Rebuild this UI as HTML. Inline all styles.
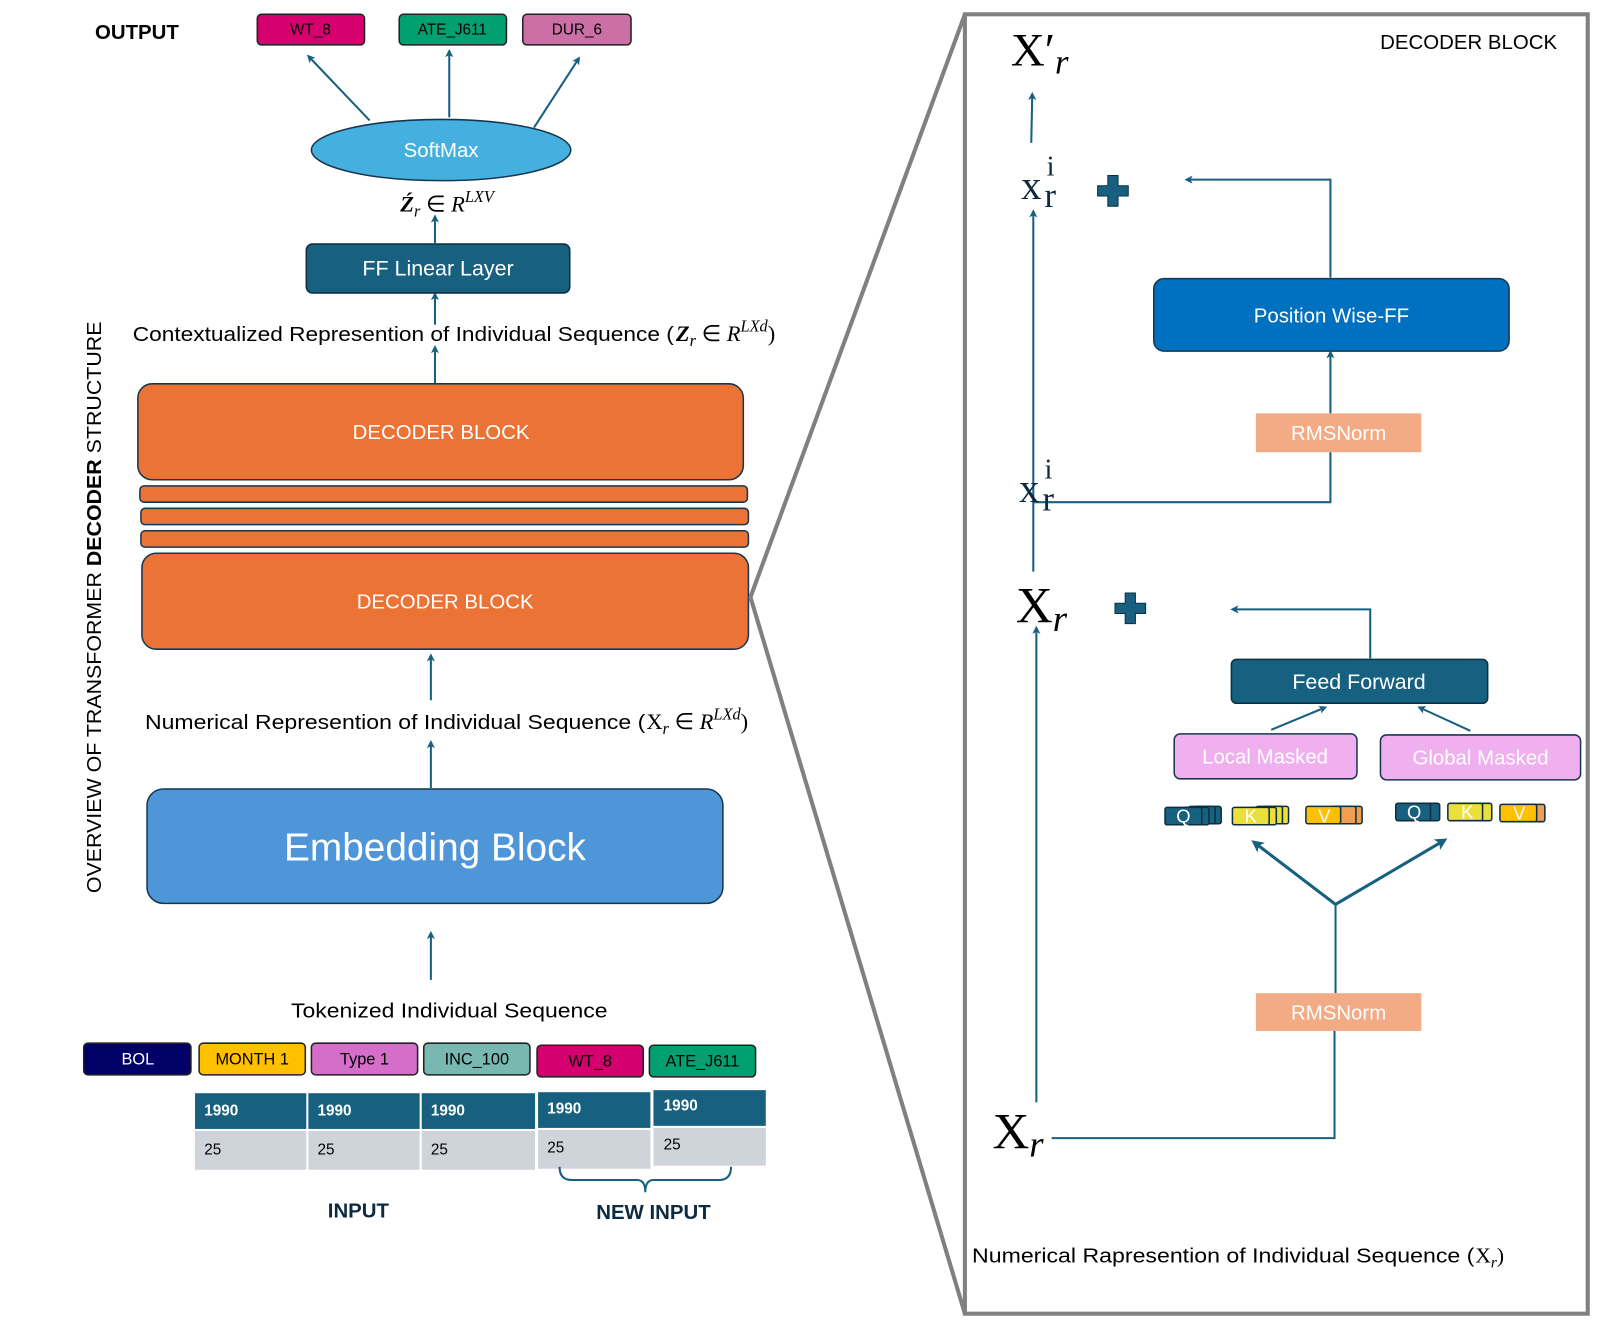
<!DOCTYPE html>
<html><head><meta charset="utf-8"><style>
html,body{margin:0;padding:0;background:#fff;}
svg{display:block;}
text{font-family:"Liberation Sans",sans-serif;}
.s{font-family:"Liberation Serif",serif;}
</style></head><body>
<svg width="1601" height="1329" viewBox="0 0 1568 1302" preserveAspectRatio="none" xmlns="http://www.w3.org/2000/svg">
<defs>
<marker id="a" markerWidth="8" markerHeight="8" refX="6" refY="4" orient="auto" markerUnits="userSpaceOnUse"><path d="M0,0 L8,4 L0,8 L2,4 z" fill="#17607f"/></marker>
<marker id="b" markerWidth="12" markerHeight="12" refX="9" refY="6" orient="auto" markerUnits="userSpaceOnUse"><path d="M0,0 L12,6 L0,12 L3,6 z" fill="#17607f"/></marker>
</defs>
<g stroke="#17607f" stroke-width="2" fill="none" marker-end="url(#a)">
<line x1="362" y1="118" x2="302" y2="55"/>
<line x1="440" y1="115" x2="440" y2="50"/>
<line x1="523" y1="125" x2="567" y2="57"/>
<line x1="426" y1="238" x2="426" y2="212"/>
<line x1="426" y1="318" x2="426" y2="288"/>
<line x1="426" y1="376" x2="426" y2="340"/>
<line x1="422" y1="686" x2="422" y2="642"/>
<line x1="422" y1="772" x2="422" y2="727"/>
<line x1="422" y1="960" x2="422" y2="914"/>
<line x1="1010" y1="140" x2="1011" y2="92"/>
<polyline points="1303,272 1303,176 1162,176"/>
<line x1="1303" y1="405" x2="1303" y2="345"/>
<line x1="1012" y1="560" x2="1012" y2="207"/>
<polyline points="1342,645 1342,597 1207,597"/>
<line x1="1245" y1="715" x2="1298" y2="693"/>
<line x1="1440" y1="716" x2="1390" y2="693"/>
<line x1="1015" y1="1080" x2="1015" y2="615"/>
</g>
<g stroke="#17607f" stroke-width="2" fill="none">
<polyline points="1303,443 1303,492 1012,492"/>
<polyline points="1307,1010 1307,1115 1030,1115"/>
<line x1="1308" y1="973" x2="1308" y2="886"/>
</g>
<g stroke="#17607f" stroke-width="3" fill="none" marker-end="url(#b)">
<line x1="1308" y1="886" x2="1228" y2="825"/>
<line x1="1308" y1="886" x2="1415" y2="823"/>
</g>
<!-- output -->
<text x="93" y="38" font-size="20" font-weight="bold" fill="#000">OUTPUT</text>
<g stroke="#222" stroke-width="1.5">
<rect x="252" y="14" width="105" height="30" rx="4" fill="#d6006f"/>
<rect x="391" y="14" width="105" height="30" rx="4" fill="#00a070"/>
<rect x="512" y="14" width="106" height="30" rx="4" fill="#cc6fa6"/>
</g>
<g font-size="15" text-anchor="middle" fill="#000">
<text x="304" y="34">WT_8</text><text x="443" y="34">ATE_J611</text><text x="565" y="34">DUR_6</text>
</g>
<ellipse cx="432" cy="147" rx="127" ry="30" fill="#45b0e0" stroke="#17374f" stroke-width="1.5"/>
<text x="432" y="154" font-size="20" fill="#fff" text-anchor="middle">SoftMax</text>
<text x="392" y="207" font-size="22" class="s"><tspan font-style="italic" font-weight="bold">Ź</tspan><tspan font-style="italic" font-size="16" dy="5">r</tspan><tspan dy="-5"> ∈ </tspan><tspan font-style="italic">R</tspan><tspan font-style="italic" font-size="16" dy="-9">LXV</tspan></text>
<rect x="300" y="239" width="258" height="48" rx="6" fill="#17607f" stroke="#0d2f40" stroke-width="1.5"/>
<text x="429" y="270" font-size="21" fill="#fff" text-anchor="middle">FF Linear Layer</text>
<text x="130" y="334" font-size="20" fill="#000" textLength="530" lengthAdjust="spacingAndGlyphs">Contextualized Represention of Individual Sequence (</text>
<text x="662" y="334" font-size="22" class="s"><tspan font-style="italic" font-weight="bold">Z</tspan><tspan font-style="italic" font-size="16" dy="5">r</tspan><tspan dy="-5"> ∈ </tspan><tspan font-style="italic">R</tspan><tspan font-style="italic" font-size="16" dy="-9">LXd</tspan><tspan dy="9">)</tspan></text>
<g fill="#eb7336" stroke="#17374f" stroke-width="1.5">
<rect x="135" y="376" width="593" height="94" rx="14"/>
<rect x="137" y="476" width="595" height="16" rx="4"/>
<rect x="138" y="498" width="595" height="16" rx="4"/>
<rect x="138" y="520" width="595" height="16" rx="4"/>
<rect x="139" y="542" width="594" height="94" rx="14"/>
</g>
<text x="432" y="430" font-size="20" fill="#fff" text-anchor="middle">DECODER BLOCK</text>
<text x="436" y="596" font-size="20" fill="#fff" text-anchor="middle">DECODER BLOCK</text>
<text x="142" y="714" font-size="20" fill="#000" textLength="490" lengthAdjust="spacingAndGlyphs">Numerical Represention of  Individual Sequence (</text>
<text x="633" y="714" font-size="22" class="s"><tspan>X</tspan><tspan font-style="italic" font-size="16" dy="5">r</tspan><tspan dy="-5"> ∈ </tspan><tspan font-style="italic">R</tspan><tspan font-style="italic" font-size="16" dy="-9">LXd</tspan><tspan dy="9">)</tspan></text>
<rect x="144" y="773" width="564" height="112" rx="16" fill="#4f96d9" stroke="#17374f" stroke-width="1.5"/>
<text x="426" y="843" font-size="38" fill="#fff" text-anchor="middle">Embedding Block</text>
<text transform="translate(99,875) rotate(-90)" font-size="20" fill="#000" textLength="560" lengthAdjust="spacingAndGlyphs">OVERVIEW OF TRANSFORMER  <tspan font-weight="bold">DECODER</tspan> STRUCTURE</text>
<text x="285" y="997" font-size="20" fill="#000" textLength="310" lengthAdjust="spacingAndGlyphs">Tokenized Individual Sequence</text>
<g stroke="#222" stroke-width="1.5">
<rect x="82" y="1022" width="105" height="31" rx="4" fill="#000066"/>
<rect x="195" y="1022" width="104" height="31" rx="4" fill="#ffc000"/>
<rect x="305" y="1022" width="104" height="31" rx="4" fill="#d46ec8"/>
<rect x="415" y="1022" width="104" height="31" rx="4" fill="#79b7b1"/>
<rect x="526" y="1024" width="104" height="31" rx="4" fill="#d4006f"/>
<rect x="636" y="1024" width="104" height="31" rx="4" fill="#00a070"/>
</g>
<g font-size="16" text-anchor="middle" fill="#000">
<text x="135" y="1043" fill="#fff">BOL</text><text x="247" y="1043">MONTH 1</text><text x="357" y="1043">Type 1</text><text x="467" y="1043">INC_100</text><text x="578" y="1045">WT_8</text><text x="688" y="1045">ATE_J611</text>
</g>
<g fill="#17607f">
<rect x="191" y="1071" width="109" height="35"/><rect x="302" y="1071" width="109" height="35"/><rect x="413" y="1071" width="111" height="35"/><rect x="527" y="1070" width="110" height="35"/><rect x="640" y="1068" width="110" height="35"/>
</g>
<g fill="#cfd3da">
<rect x="191" y="1108" width="109" height="38"/><rect x="302" y="1108" width="109" height="38"/><rect x="413" y="1108" width="111" height="38"/><rect x="527" y="1107" width="110" height="38"/><rect x="640" y="1105" width="110" height="37"/>
</g>
<g font-size="15" font-weight="bold" fill="#fff">
<text x="200" y="1093">1990</text><text x="311" y="1093">1990</text><text x="422" y="1093">1990</text><text x="536" y="1091">1990</text><text x="650" y="1088">1990</text>
</g>
<g font-size="15" fill="#000">
<text x="200" y="1131">25</text><text x="311" y="1131">25</text><text x="422" y="1131">25</text><text x="536" y="1129">25</text><text x="650" y="1126">25</text>
</g>
<path d="M548,1143 Q548,1156 560,1156 L624,1156 Q632,1156 632,1168 Q632,1156 640,1156 L704,1156 Q716,1156 716,1143" fill="none" stroke="#17607f" stroke-width="2"/>
<text x="351" y="1193" font-size="20" font-weight="bold" fill="#0d2a40" text-anchor="middle">INPUT</text>
<text x="640" y="1194" font-size="20" font-weight="bold" fill="#0d2a40" text-anchor="middle">NEW INPUT</text>
<!-- right panel -->
<rect x="945" y="14" width="610" height="1273" fill="none" stroke="#808080" stroke-width="4"/>
<line x1="735" y1="585" x2="945" y2="14" stroke="#808080" stroke-width="4"/>
<line x1="735" y1="585" x2="945" y2="1287" stroke="#808080" stroke-width="4"/>
<text x="1525" y="48" font-size="20" fill="#000" text-anchor="end">DECODER BLOCK</text>
<text x="990" y="64" font-size="46" class="s" fill="#000">X′<tspan font-style="italic" font-size="34" dy="8">r</tspan></text>
<g class="s" fill="#0d2a40">
<text x="1000" y="195" font-size="40" class="s">x</text>
<text x="1025" y="172" font-size="28" class="s">i</text>
<text x="1023" y="203" font-size="34" class="s">r</text>
<text x="998" y="492" font-size="40" class="s">x</text>
<text x="1023" y="469" font-size="28" class="s">i</text>
<text x="1021" y="500" font-size="34" class="s">r</text>
</g>
<text x="995" y="610" font-size="50" class="s" fill="#000">X<tspan font-style="italic" font-size="36" dy="8">r</tspan></text>
<text x="972" y="1125" font-size="50" class="s" fill="#000">X<tspan font-style="italic" font-size="36" dy="8">r</tspan></text>
<path d="M1075,182 h10 v-10 h10 v10 h10 v10 h-10 v10 h-10 v-10 h-10 z" fill="#17607f" stroke="#0d2f40" stroke-width="1"/>
<path d="M1092,591 h10 v-10 h10 v10 h10 v10 h-10 v10 h-10 v-10 h-10 z" fill="#17607f" stroke="#0d2f40" stroke-width="1"/>
<rect x="1130" y="273" width="348" height="71" rx="10" fill="#0070c0" stroke="#17374f" stroke-width="1.5"/>
<text x="1304" y="316" font-size="20" fill="#fff" text-anchor="middle">Position Wise-FF</text>
<rect x="1230" y="405" width="162" height="38" fill="#f2ab84"/>
<text x="1311" y="431" font-size="20" fill="#fff" text-anchor="middle">RMSNorm</text>
<rect x="1206" y="646" width="251" height="43" rx="5" fill="#17607f" stroke="#0d2f40" stroke-width="1.5"/>
<text x="1331" y="675" font-size="21" fill="#fff" text-anchor="middle">Feed Forward</text>
<rect x="1150" y="719" width="179" height="44" rx="6" fill="#f0b0f0" stroke="#17374f" stroke-width="1.5"/>
<text x="1239" y="748" font-size="20" fill="#fff" text-anchor="middle">Local  Masked</text>
<rect x="1352" y="720" width="196" height="44" rx="6" fill="#f0b0f0" stroke="#17374f" stroke-width="1.5"/>
<text x="1450" y="749" font-size="20" fill="#fff" text-anchor="middle">Global Masked</text>
<g stroke="#0d2f40" stroke-width="1.5">
<rect x="1170" y="790" width="26" height="17" rx="2" fill="#17607f"/><rect x="1164" y="790" width="26" height="17" rx="2" fill="#17607f"/><rect x="1158" y="791" width="26" height="17" rx="2" fill="#17607f"/><rect x="1141" y="791" width="36" height="17" rx="2" fill="#17607f"/>
<rect x="1236" y="790" width="26" height="17" rx="2" fill="#ebdf3c"/><rect x="1230" y="790" width="26" height="17" rx="2" fill="#ebdf3c"/><rect x="1224" y="791" width="26" height="17" rx="2" fill="#ebdf3c"/><rect x="1207" y="791" width="36" height="17" rx="2" fill="#ebdf3c"/>
<rect x="1310" y="790" width="24" height="17" rx="2" fill="#eea050"/><rect x="1304" y="790" width="24" height="17" rx="2" fill="#eea050"/><rect x="1279" y="790" width="34" height="17" rx="2" fill="#ffc000"/>
<rect x="1382" y="787" width="28" height="17" rx="2" fill="#17607f"/><rect x="1367" y="787" width="34" height="17" rx="2" fill="#17607f"/>
<rect x="1430" y="787" width="31" height="17" rx="2" fill="#ebdf3c"/><rect x="1418" y="787" width="34" height="17" rx="2" fill="#ebdf3c"/>
<rect x="1485" y="788" width="28" height="17" rx="2" fill="#eea050"/><rect x="1469" y="788" width="36" height="17" rx="2" fill="#ffc000"/>
</g>
<g font-size="18" fill="#fff" text-anchor="middle">
<text x="1159" y="806">Q</text><text x="1225" y="806">K</text><text x="1297" y="806">V</text>
<text x="1385" y="802">Q</text><text x="1437" y="802">K</text><text x="1488" y="803">V</text>
</g>
<rect x="1230" y="973" width="162" height="37" fill="#f2ab84"/>
<text x="1311" y="999" font-size="20" fill="#fff" text-anchor="middle">RMSNorm</text>
<text x="952" y="1237" font-size="20" fill="#000" textLength="492" lengthAdjust="spacingAndGlyphs">Numerical Rapresention of  Individual Sequence (</text>
<text x="1445" y="1237" font-size="21" class="s" fill="#000">X<tspan font-style="italic" font-size="15" dy="5">r</tspan><tspan dy="-5">)</tspan></text>
</svg>
</body></html>
